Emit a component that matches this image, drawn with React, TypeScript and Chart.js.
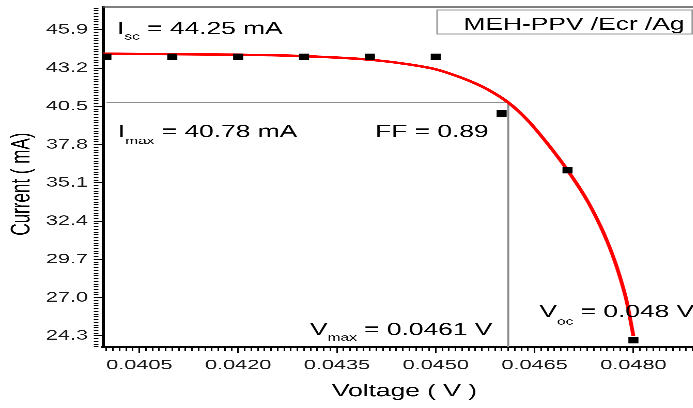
import { useEffect, useRef } from 'react';
import { Chart, registerables } from 'chart.js';

Chart.register(...registerables);

// Measured J–V points (voltage in V, current in mA)
const VOLTAGE = [0.04, 0.041, 0.042, 0.043, 0.044, 0.045, 0.046, 0.047, 0.048];
const CURRENT = [44.0, 44.0, 44.0, 44.0, 44.0, 44.0, 40.0, 36.0, 24.0];

// Fitted diode curve
const FIT_VOLTAGE = [
  0.03995, 0.0405, 0.041, 0.0415, 0.042, 0.0425, 0.043, 0.0435, 0.044, 0.0445, 0.045,
  0.0453, 0.0456, 0.0458, 0.0461, 0.0464, 0.0467, 0.047, 0.0473, 0.0475, 0.0476, 0.0477,
  0.0478, 0.0479, 0.048,
];
const FIT_CURRENT = [
  44.22, 44.21, 44.19, 44.17, 44.15, 44.12, 44.05, 43.95, 43.8, 43.53, 43.12,
  42.68, 42.13, 41.67, 40.78, 39.5, 37.85, 36.0, 33.85, 32.05, 31.0, 29.8,
  28.4, 26.7, 24.3,
];

// Axis tick labels
const X_TICK_LABELS = ['0.0405', '0.0420', '0.0435', '0.0450', '0.0465', '0.0480'];
const Y_TICK_LABELS = ['24.3', '27.0', '29.7', '32.4', '35.1', '37.8', '40.5', '43.2', '45.9'];

// Cell parameters
const I_SC = '44.25';
const I_MAX = 40.78;
const V_MAX = 0.0461;
const V_OC = '0.048';
const FILL_FACTOR = '0.89';
const DEVICE = 'MEH-PPV /Ecr /Ag';

const X_MIN = 0.03995;
const X_MAX = 0.0491;
const Y_MIN = 23.52;
const Y_MAX = 47.52;

const FONT = "'Liberation Sans', Arial, Helvetica, sans-serif";
const STRETCH = 1.55;
const W = 460;
const H = 408;

type T = { value: number; label: string; minor: boolean };

function xTicks(): T[] {
  const out: T[] = [];
  const minorStep = 0.0001;
  for (let k = Math.ceil(X_MIN / minorStep - 1e-9); k * minorStep <= X_MAX + 1e-12; k++) {
    const v = k * minorStep;
    const lbl = X_TICK_LABELS.find((l) => Math.abs(parseFloat(l) - v) < 1e-9) || '';
    out.push({ value: v, label: lbl, minor: lbl === '' });
  }
  return out;
}

function yTicks(): T[] {
  const out: T[] = [];
  const base = parseFloat(Y_TICK_LABELS[0]);
  const major = parseFloat(Y_TICK_LABELS[1]) - base;
  const perMajor = 14;
  const step = major / perMajor;
  let j = Math.ceil((Y_MIN - base) / step - 1e-9);
  for (; base + j * step <= Y_MAX + 1e-9; j++) {
    const v = base + j * step;
    const isMajor = j % perMajor === 0 && j >= 0 && j / perMajor < Y_TICK_LABELS.length;
    out.push({ value: v, label: isMajor ? Y_TICK_LABELS[j / perMajor] : '', minor: !isMajor });
  }
  return out;
}

function drawSub(ctx: CanvasRenderingContext2D, x: number, y: number, main: string, sub: string, rest: string, drop: number) {
  ctx.font = `17px ${FONT}`;
  ctx.fillText(main, x, y);
  let cx = x + ctx.measureText(main).width;
  ctx.font = `10px ${FONT}`;
  ctx.fillText(sub, cx, y + drop);
  cx += ctx.measureText(sub).width;
  ctx.font = `17px ${FONT}`;
  ctx.fillText(rest, cx, y);
}

const frame = {
  id: 'frame',
  beforeDatasetsDraw(chart: any) {
    const { ctx, chartArea } = chart;
    ctx.save();
    ctx.strokeStyle = '#555';
    ctx.lineWidth = 1.2;
    ctx.beginPath();
    ctx.moveTo(chartArea.left, chartArea.top);
    ctx.lineTo(chartArea.right, chartArea.top);
    ctx.stroke();
    ctx.restore();
  },
};

const notes = {
  id: 'notes',
  afterDatasetsDraw(chart: any) {
    const ctx: CanvasRenderingContext2D = chart.ctx;
    ctx.save();
    ctx.fillStyle = '#000';
    ctx.textBaseline = 'alphabetic';
    ctx.textAlign = 'left';
    drawSub(ctx, 75.5, 34, 'I', 'sc', ` = ${I_SC} mA`, 5.5);
    drawSub(ctx, 76, 137, 'I', 'max', ` = ${I_MAX} mA`, 7);
    ctx.font = `17px ${FONT}`;
    ctx.fillText(`FF = ${FILL_FACTOR}`, 242, 137);
    drawSub(ctx, 200, 335, 'V', 'max', ` = ${V_MAX} V`, 5.5);
    drawSub(ctx, 348, 317, 'V', 'oc', ` = ${V_OC} V`, 7.5);

    ctx.fillStyle = '#fff';
    ctx.fillRect(282, 10, 164.6, 24);
    ctx.strokeStyle = '#9a9a9a';
    ctx.lineWidth = 1;
    ctx.strokeRect(282, 10, 164.6, 24);
    ctx.fillStyle = '#000';
    ctx.font = `17px ${FONT}`;
    ctx.fillText(DEVICE, 299, 29.5);
    ctx.restore();
  },
};

export default function App() {
  const ref = useRef<HTMLCanvasElement>(null);

  useEffect(() => {
    document.body.style.margin = '0';
    document.body.style.overflow = 'hidden';
    const canvas = ref.current;
    if (!canvas) return;

    const chart = new Chart(canvas, {
      type: 'line',
      data: {
        datasets: [
          {
            label: 'measured',
            data: VOLTAGE.map((v, i) => ({ x: v, y: CURRENT[i] })),
            showLine: false,
            pointStyle: 'rect',
            pointRadius: 4.6,
            pointBorderWidth: 0,
            pointBackgroundColor: '#000',
            borderColor: '#000',
            order: 0,
          },
          {
            label: 'fit',
            data: FIT_VOLTAGE.map((v, i) => ({ x: v, y: FIT_CURRENT[i] })),
            borderColor: '#ff0000',
            borderWidth: 2.5,
            pointRadius: 0,
            cubicInterpolationMode: 'monotone',
            order: 1,
          },
          {
            label: 'max power point',
            data: [
              { x: VOLTAGE[0], y: I_MAX },
              { x: V_MAX, y: I_MAX },
              { x: V_MAX, y: Y_MIN },
            ],
            borderColor: '#8c8c8c',
            borderWidth: 1.3,
            pointRadius: 0,
            tension: 0,
            order: 2,
          },
        ],
      },
      options: {
        responsive: false,
        animation: false,
        devicePixelRatio: 3,
        layout: { padding: { left: 0, top: 7, right: 4, bottom: 0 } },
        plugins: { legend: { display: false }, tooltip: { enabled: false } },
        scales: {
          x: {
            type: 'linear',
            min: X_MIN,
            max: X_MAX,
            afterBuildTicks: (s: any) => {
              s.ticks = xTicks();
            },
            afterFit: (s: any) => {
              s.height = 61;
              s.paddingLeft = 0;
              s.paddingRight = 0;
            },
            ticks: {
              autoSkip: false,
              maxRotation: 0,
              minRotation: 0,
              padding: 4,
              color: '#1a1a1a',
              font: { family: FONT, size: 14 },
              callback: (_v: any, i: number, ticks: any[]) => ticks[i].label,
            },
            grid: {
              drawOnChartArea: false,
              drawTicks: true,
              tickLength: 6,
              tickColor: '#000',
              tickWidth: 1,
              tickBorderDash: (c: any) => (c.tick && c.tick.minor ? [3, 20] : []),
            },
            border: { display: true, color: '#000', width: 2.5 },
            title: {
              display: true,
              text: 'Voltage ( V )',
              color: '#000',
              font: { family: FONT, size: 17 },
              padding: { top: 0, bottom: 6 },
            },
          },
          y: {
            type: 'linear',
            min: Y_MIN,
            max: Y_MAX,
            afterBuildTicks: (s: any) => {
              s.ticks = yTicks();
            },
            afterFit: (s: any) => {
              s.width = 66.5;
              s.paddingTop = 0;
              s.paddingBottom = 0;
            },
            ticks: {
              autoSkip: false,
              padding: 3.7,
              color: '#1a1a1a',
              font: { family: FONT, size: 14 },
              callback: (_v: any, i: number, ticks: any[]) => ticks[i].label,
            },
            grid: {
              drawOnChartArea: false,
              drawTicks: true,
              tickLength: 6,
              tickColor: '#000',
              tickWidth: 1,
              tickBorderDash: (c: any) => (c.tick && c.tick.minor ? [3, 20] : []),
            },
            border: { display: true, color: '#000', width: 2 },
            title: {
              display: true,
              text: 'Current ( mA)   ',
              color: '#000',
              font: { family: FONT, size: 17 },
              padding: { top: 4, bottom: 0 },
            },
          },
        },
      },
      plugins: [frame, notes],
    } as any);

    return () => chart.destroy();
  }, []);

  return (
    <div style={{ width: 693, height: H, overflow: 'hidden', background: '#fff' }}>
      <div style={{ width: W, height: H, transform: `scaleX(${STRETCH})`, transformOrigin: '0 0' }}>
        <canvas ref={ref} width={W} height={H} />
      </div>
    </div>
  );
}
